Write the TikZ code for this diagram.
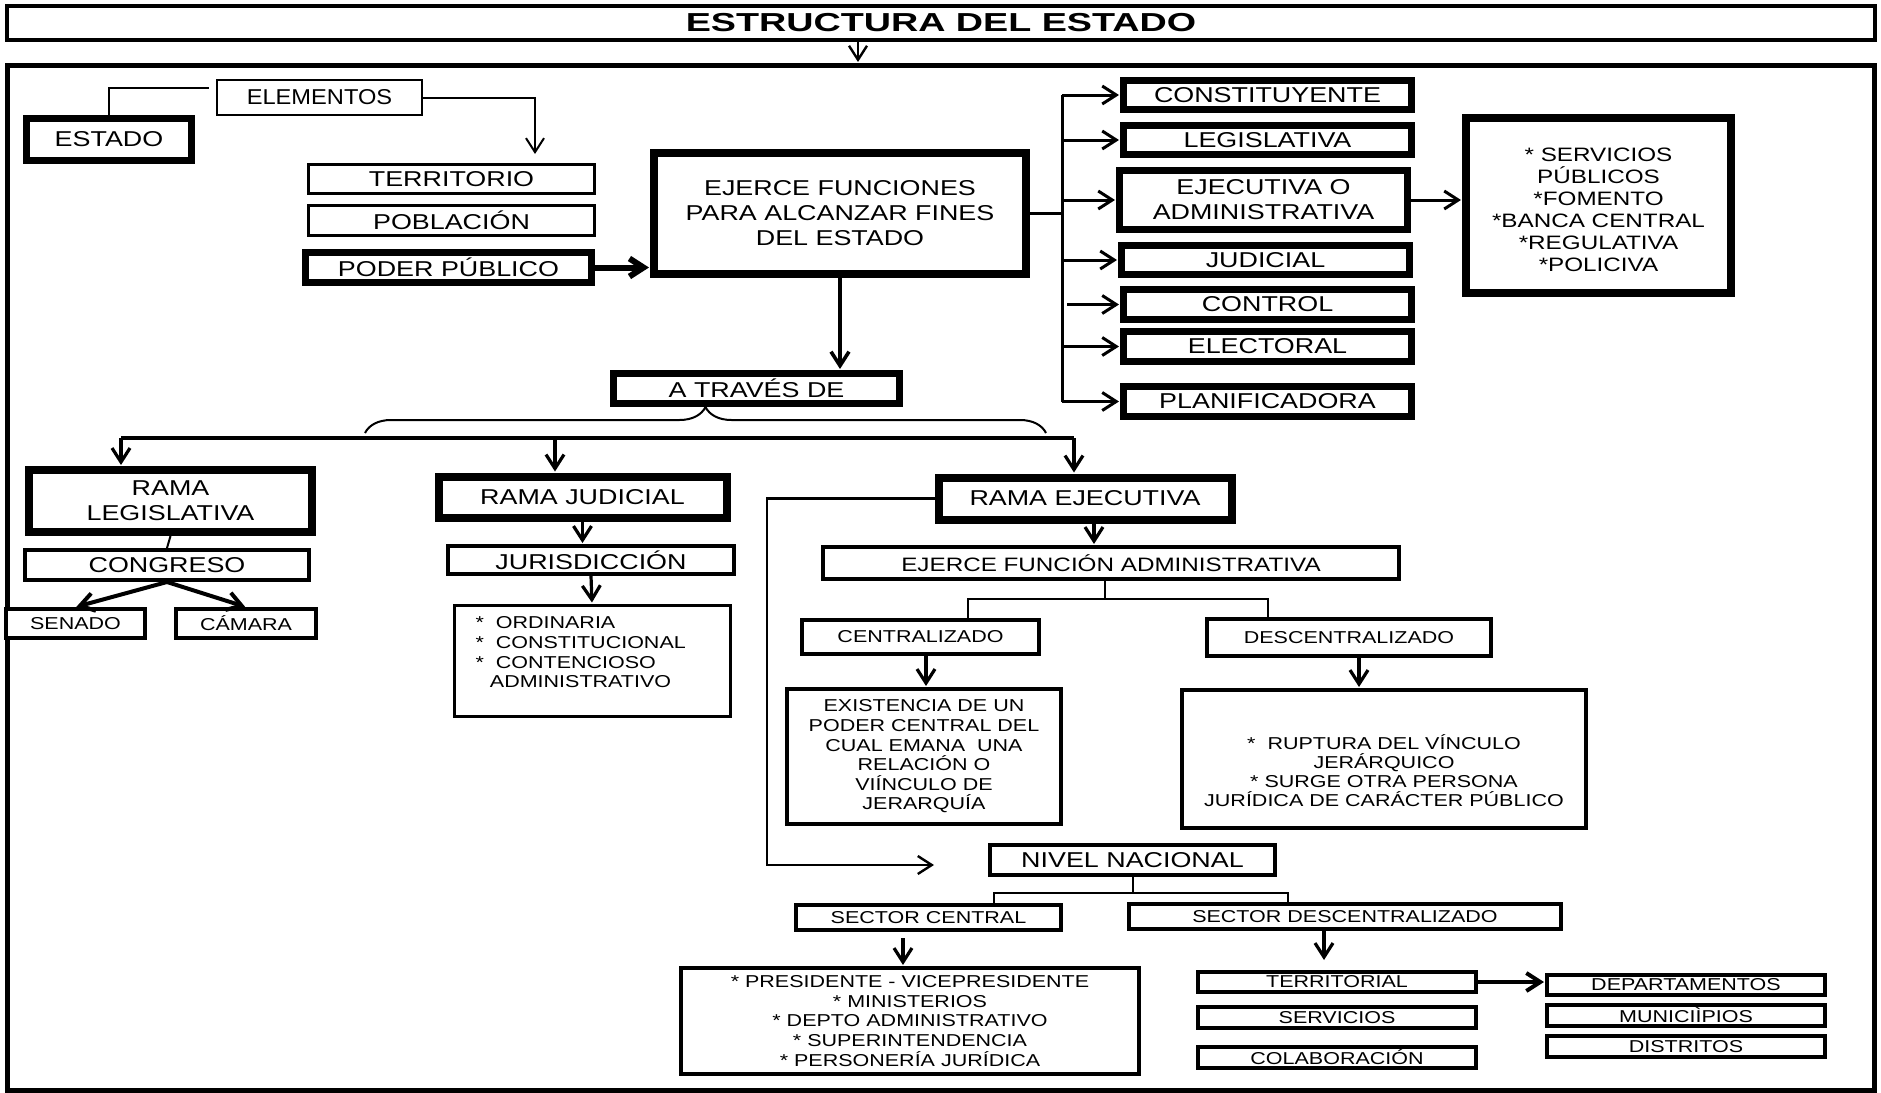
\documentclass[tikz,border=0pt]{standalone}
\usepackage{fontspec}
\setmainfont{Liberation Sans}[FakeStretch=1.25]
\usepackage{tikz}
\usetikzlibrary{arrows.meta, positioning, decorations.pathreplacing}

\begin{document}
\begin{tikzpicture}[x=0.5pt, y=-0.5pt, >={Straight Barb[length=7pt,width=9pt]}]
    \tikzstyle{gruesa}=[draw, line width=3.5pt, inner sep=0pt, align=center, fill=white, font=\fontsize{10.75}{12.5}\selectfont]
    \tikzstyle{media}=[draw, line width=2pt, inner sep=0pt, align=center, fill=white, font=\fontsize{8.6}{9.8}\selectfont]
    \tikzstyle{fina}=[draw, line width=1pt, inner sep=0pt, fill=white, font=\fontsize{10.75}{12.5}\selectfont]
    \tikzstyle{grande}=[font=\fontsize{10.75}{12.5}\selectfont]
    \tikzstyle{mediana}=[font=\fontsize{9.7}{11}\selectfont]
    \tikzstyle{chica}=[font=\fontsize{8.6}{9.8}\selectfont]
    \tikzstyle{linea}=[-, line width=1pt]
    \tikzstyle{flecha}=[->, line width=1.6pt, shorten >=0.5pt]

    \fill[white] (0,0) rectangle (1881,1093);
    \useasboundingbox (0,0) rectangle (1881,1093);

    % --- MARCO Y TITULO ---
    \node[draw, line width=2.5pt, inner sep=0pt, minimum width=933.5pt, minimum height=512.5pt] (marco) at (941,578) {};
    \node[draw, line width=2pt, inner sep=0pt, minimum width=934pt, minimum height=17pt,
          font=\fontsize{13}{15}\bfseries\selectfont] (titulo) at (941,23) {\scalebox{1.16}[1]{ESTRUCTURA DEL ESTADO}};

    % --- NODES (Elementos) ---
    \node[gruesa, minimum width=82.5pt, minimum height=21pt] (estado) at (109,139.5) {ESTADO};
    \node[fina, minimum width=102.5pt, minimum height=17.5pt] (elementos) at (319.5,97.5) {\scalebox{0.88}[1]{ELEMENTOS}};
    \node[media, grande, line width=1.5pt, minimum width=143pt, minimum height=14.5pt] (territorio) at (451.5,179) {TERRITORIO};
    \node[media, grande, line width=1.5pt, minimum width=143pt, minimum height=15pt] (poblacion) at (451.5,220.5) {POBLACIÓN};
    \node[gruesa, minimum width=143pt, minimum height=15pt] (poder) at (448.5,267.5) {PODER PÚBLICO};
    \node[gruesa, line width=4pt, minimum width=186pt, minimum height=60.5pt] (ejerce) at (840,213.5) {EJERCE FUNCIONES\\PARA ALCANZAR FINES\\DEL ESTADO};

    % --- NODES (Funciones) ---
    \node[gruesa, minimum width=144pt, minimum height=14.5pt] (constituyente) at (1267.5,95) {CONSTITUYENTE};
    \node[gruesa, minimum width=144pt, minimum height=14.5pt] (legislativa) at (1267.5,140) {LEGISLATIVA};
    \node[gruesa, minimum width=144pt, minimum height=29.5pt] (ejecutiva) at (1263.5,200) {EJECUTIVA O\\ADMINISTRATIVA};
    \node[gruesa, minimum width=144pt, minimum height=14.5pt] (judicial) at (1265.5,260) {JUDICIAL};
    \node[gruesa, minimum width=144pt, minimum height=15pt] (control) at (1267.5,304.5) {CONTROL};
    \node[gruesa, minimum width=144pt, minimum height=15pt] (electoral) at (1267.5,346.5) {ELECTORAL};
    \node[gruesa, minimum width=144pt, minimum height=15pt] (planificadora) at (1267.5,401.5) {PLANIFICADORA};
    \node[gruesa, line width=4pt, minimum width=132.5pt, minimum height=87.5pt,
          label={[align=center, yshift=-2pt, mediana]center:{* SERVICIOS\\PÚBLICOS\\*FOMENTO\\*BANCA CENTRAL\\*REGULATIVA\\*POLICIVA}}] (servicios) at (1598.5,205.5) {};

    % --- NODES (Ramas) ---
    \node[gruesa, minimum width=143pt, minimum height=15pt] (atraves) at (756.5,388.5) {A TRAVÉS DE};
    \node[gruesa, line width=4pt, minimum width=141.5pt, minimum height=31pt] (ramaleg) at (170.5,501) {RAMA\\LEGISLATIVA};
    \node[gruesa, line width=4pt, minimum width=144pt, minimum height=20.5pt] (ramajud) at (582.5,497) {RAMA JUDICIAL};
    \node[gruesa, line width=4pt, minimum width=146.5pt, minimum height=21pt] (ramaejec) at (1085,498.5) {RAMA EJECUTIVA};

    % Rama legislativa y judicial
    \node[media, grande, minimum width=142pt, minimum height=15pt] (congreso) at (167,565) {CONGRESO};
    \node[media, minimum width=69.5pt, minimum height=14.5pt] (senado) at (75.5,623.5) {SENADO};
    \node[media, minimum width=70pt, minimum height=14.5pt] (camara) at (246,623.5) {CÁMARA};
    \node[media, grande, minimum width=143pt, minimum height=14pt] (juris) at (591,560) {JURISDICCIÓN};
    \node[media, line width=1.5pt, minimum width=138pt, minimum height=55.5pt,
          label={[anchor=west, align=left, xshift=8pt, yshift=4pt, font=\fontsize{8.6}{9.85}\selectfont]west:{*~~ORDINARIA\\*~~CONSTITUCIONAL\\*~~CONTENCIOSO\\\phantom{*}~ADMINISTRATIVO}}] (ordinaria) at (592,660.5) {};

    % Rama ejecutiva
    \node[media, mediana, minimum width=288pt, minimum height=16pt] (efa) at (1111,563) {EJERCE FUNCIÓN ADMINISTRATIVA};
    \node[media, minimum width=118.5pt, minimum height=17pt] (centr) at (920.5,637) {CENTRALIZADO};
    \node[media, minimum width=142pt, minimum height=18.5pt] (descentr) at (1349,637.5) {DESCENTRALIZADO};
    \node[media, minimum width=137pt, minimum height=67.5pt] (existencia) at (924,756.5) {EXISTENCIA DE UN\\PODER CENTRAL DEL\\CUAL EMANA~~UNA\\RELACIÓN O\\VIÍNCULO DE\\JERARQUÍA};
    \node[media, minimum width=202pt, minimum height=69pt,
          label={[align=center, yshift=-5.75pt, font=\fontsize{8.6}{9.6}\selectfont]center:{*~~RUPTURA DEL VÍNCULO\\JERÁRQUICO\\*~SURGE OTRA PERSONA\\JURÍDICA DE CARÁCTER PÚBLICO}}] (ruptura) at (1384,759) {};

    % Nivel nacional
    \node[media, grande, minimum width=142.5pt, minimum height=15pt] (nivel) at (1132.5,860) {NIVEL NACIONAL};
    \node[media, minimum width=132.5pt, minimum height=12.5pt] (sc) at (928.5,917.5) {SECTOR CENTRAL};
    \node[media, minimum width=216pt, minimum height=12.5pt] (sd) at (1345,916.5) {SECTOR DESCENTRALIZADO};
    \node[media, minimum width=229pt, minimum height=53pt] (presidente) at (910,1021) {* PRESIDENTE - VICEPRESIDENTE\\* MINISTERIOS\\* DEPTO ADMINISTRATIVO\\* SUPERINTENDENCIA\\* PERSONERÍA JURÍDICA};
    \node[media, minimum width=139pt, minimum height=10pt] (territorial) at (1337,982) {TERRITORIAL};
    \node[media, minimum width=139pt, minimum height=10.5pt] (servs) at (1337,1017.5) {SERVICIOS};
    \node[media, minimum width=139pt, minimum height=10.5pt] (colab) at (1337,1057.5) {COLABORACIÓN};
    \node[media, minimum width=139pt, minimum height=10pt] (deptos) at (1686,985) {DEPARTAMENTOS};
    \node[media, minimum width=139pt, minimum height=10.5pt] (municipios) at (1686,1015.5) {MUNICIÌPIOS};
    \node[media, minimum width=139pt, minimum height=10.5pt] (distritos) at (1686,1046.5) {DISTRITOS};

    % --- EDGES ---
    \coordinate (tx) at (858,0);
    \draw[flecha, line width=1.2pt] (titulo.south -| tx) -- (marco.north -| tx);

    % Elementos del estado
    \draw[linea] (estado.north) |- ([xshift=-3.5pt, yshift=4.75pt]elementos.west);
    \draw[flecha, line width=1pt] (elementos.east) -| ([xshift=41.75pt, yshift=4pt]territorio.north);
    \draw[flecha, line width=3pt] (poder.east) -- (poder.east -| ejerce.west);
    \draw[flecha, line width=1.8pt] (ejerce.south) -- (ejerce.south |- atraves.north);

    % Funciones
    \coordinate (bus) at (1062,0);
    \draw[linea, line width=1.5pt] (ejerce.east) -- (ejerce.east -| bus);
    \draw[linea, line width=1.5pt] (constituyente.west -| bus) -- (planificadora.west -| bus);
    \path[flecha, line width=1.5pt] (constituyente.west -| bus) edge (constituyente.west)
          (legislativa.west -| bus) edge (legislativa.west)
          (ejecutiva.west -| bus) edge (ejecutiva.west)
          (judicial.west -| bus) edge (judicial.west)
          ([xshift=2.5pt]control.west -| bus) edge (control.west)
          (electoral.west -| bus) edge (electoral.west)
          (planificadora.west -| bus) edge (planificadora.west);
    \draw[flecha, line width=1.5pt] (ejecutiva.east) -- (ejecutiva.east -| servicios.west);

    % A traves de
    \coordinate (llavei) at (365,433);
    \coordinate (llaved) at (1046,433);
    \draw[decorate, decoration={brace, amplitude=13pt}, line width=1pt] (llavei) -- (llaved);
    \coordinate (dl) at (121,438);
    \coordinate (dj) at (555,438);
    \coordinate (de) at (1074,438);
    \draw[linea, line width=2pt] (dl) -- (de);
    \path[flecha] (dl) edge (dl |- ramaleg.north)
          (dj) edge (dj |- ramajud.north)
          (de) edge (de |- ramaejec.north);

    % Rama legislativa
    \draw[linea] (ramaleg.south) -- (congreso.north);
    \path[flecha, line width=2pt] (congreso.south) edge (senado.north) edge (camara.north);

    % Rama judicial
    \draw[flecha] (ramajud.south) -- (ramajud.south |- juris.north);
    \draw[flecha] (juris.south) -- (ordinaria.north);

    % Rama ejecutiva
    \coordinate (ea) at (1094,0);
    \draw[flecha] (ramaejec.south -| ea) -- (efa.north -| ea);
    \coordinate (rodeo) at (767,0);
    \coordinate (llegada) at (935,865);
    \draw[flecha, line width=1.2pt] (ramaejec.west) -- (ramaejec.west -| rodeo) |- (llegada);
    \coordinate (eb) at (1105,599);
    \coordinate (ebi) at (968,599);
    \coordinate (ebd) at (1268,599);
    \draw[linea] (efa.south -| eb) -- (eb);
    \draw[linea] (ebi |- centr.north) -- (ebi) -- (ebd) -- (ebd |- descentr.north);
    \coordinate (ca) at (926,0);
    \coordinate (da) at (1359,0);
    \draw[flecha] (centr.south -| ca) -- (existencia.north -| ca);
    \draw[flecha] (descentr.south -| da) -- (ruptura.north -| da);

    % Nivel nacional
    \coordinate (nb) at (1133,893);
    \coordinate (nbi) at (994,893);
    \coordinate (nbd) at (1288,893);
    \draw[linea] (nivel.south -| nb) -- (nb);
    \draw[linea] (nbi |- sc.north) -- (nbi) -- (nbd) -- (nbd |- sd.north);
    \coordinate (sca) at (903,0);
    \coordinate (sda) at (1324,0);
    \draw[flecha, shorten <=3pt] (sc.south -| sca) -- (presidente.north -| sca);
    \draw[flecha, shorten >=5pt] (sd.south -| sda) -- (territorial.north -| sda);
    \draw[flecha, line width=2pt] (territorial.east) -- (territorial.east -| deptos.west);

\end{tikzpicture}
\end{document}
